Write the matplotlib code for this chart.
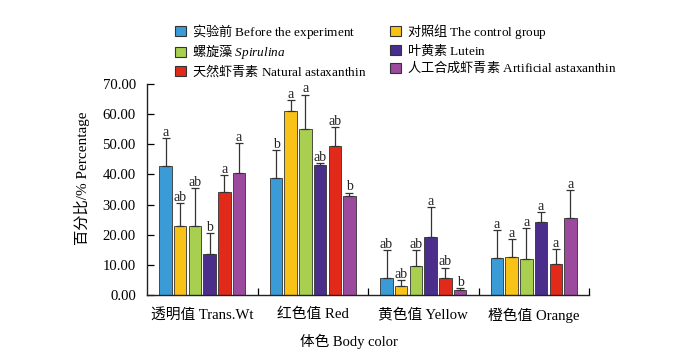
import matplotlib
matplotlib.use("Agg")
import matplotlib.pyplot as plt
from matplotlib.patches import Patch
import numpy as np

plt.rcParams['font.family'] = ['Liberation Serif', 'Noto Sans CJK SC']
plt.rcParams['mathtext.fontset'] = 'custom'
plt.rcParams['mathtext.it'] = 'Liberation Serif:italic'
plt.rcParams['mathtext.rm'] = 'Noto Sans CJK SC'

categories = ['透明值 Trans.Wt', '红色值 Red', '黄色值 Yellow', '橙色值 Orange']
series = ['$\\mathrm{实验前}$ Before the experiment', '$\\mathrm{对照组}$ The control group',
          '$\\mathrm{螺旋藻}$ $\\mathit{Spirulina}$', '$\\mathrm{叶黄素}$ Lutein',
          '$\\mathrm{天然虾青素}$ Natural astaxanthin',
          '$\\mathrm{人工合成虾青素}$ Artificial astaxanthin']
colors = ['#3A9BD6', '#F8C216', '#A8CF50', '#4B2E8C', '#E22A1B', '#9C4A9E']

before = [42.8, 38.7, 5.5, 12.3]
control = [23.0, 60.9, 3.1, 12.5]
spirulina = [23.0, 55.0, 9.7, 11.8]
lutein = [13.5, 43.1, 19.4, 24.3]
natural = [34.1, 49.5, 5.8, 10.2]
artificial = [40.5, 32.7, 1.5, 25.4]

err_before = [9.2, 9.4, 9.4, 9.3]
err_control = [7.4, 3.8, 1.9, 6.2]
err_spirulina = [12.4, 11.5, 5.2, 10.3]
err_lutein = [7.0, 0.6, 9.9, 3.3]
err_natural = [5.7, 6.1, 3.3, 5.0]
err_artificial = [10.0, 1.3, 0.9, 9.4]

sig_before = ['a', 'b', 'ab', 'a']
sig_control = ['ab', 'a', 'ab', 'a']
sig_spirulina = ['ab', 'a', 'ab', 'a']
sig_lutein = ['b', 'ab', 'a', 'a']
sig_natural = ['a', 'ab', 'ab', 'a']
sig_artificial = ['a', 'b', 'b', 'a']

values = [before, control, spirulina, lutein, natural, artificial]
errors = [err_before, err_control, err_spirulina, err_lutein, err_natural, err_artificial]
sigs = [sig_before, sig_control, sig_spirulina, sig_lutein, sig_natural, sig_artificial]

fig = plt.figure(figsize=(7.0, 3.54), dpi=100)
ax = fig.add_axes([147/700, 1-295/354, 442/700, 211/354])

x = np.arange(len(categories))
stride = 0.133
width = 0.113
for j in range(6):
    xs = x + (j - 2.5) * stride
    ax.bar(xs, values[j], width, color=colors[j], edgecolor='#333333', linewidth=0.6, zorder=2)
    ax.errorbar(xs, values[j], yerr=[np.zeros(4), errors[j]], fmt='none',
                ecolor='#333333', elinewidth=0.9, capsize=2.8, capthick=0.9, zorder=3)
    for i in range(4):
        top = values[j][i] + errors[j][i]
        ax.text(xs[i], top - 0.3, sigs[j][i], ha='center', va='bottom', fontsize=10, color='#222222')

ax.set_xlim(-0.5, 3.5)
ax.set_ylim(0, 70)
ax.set_yticks(np.arange(0, 71, 10))
ax.set_yticklabels([f'{v:.2f}' for v in np.arange(0, 71, 10)], fontsize=10.6)
ax.set_xticks(x)
ax.set_xticklabels(categories, fontsize=10.6)
ax.set_xticks([0.5, 1.5, 2.5, 3.5], minor=True)
ax.tick_params(axis='x', which='major', length=0, pad=9)
ax.tick_params(axis='x', which='minor', direction='in', length=5, width=0.9)
ax.tick_params(axis='y', direction='in', length=5, width=0.9, pad=8)
for s in ['top', 'right']:
    ax.spines[s].set_visible(False)
for s in ['left', 'bottom']:
    ax.spines[s].set_linewidth(1.0)
    ax.spines[s].set_color('#222222')

ax.set_xlabel('体色 Body color', fontsize=10.5)
ax.xaxis.set_label_coords(0.456, -0.185)
ax.set_ylabel('百分比/% Percentage', fontsize=11)
ax.yaxis.set_label_coords(-0.128, 0.552)

handles = [Patch(facecolor=colors[j], edgecolor='#333333', linewidth=0.8) for j in range(6)]
order = [0, 2, 4, 1, 3, 5]
fig.legend([handles[k] for k in order], [series[k] for k in order], ncol=2,
           loc='upper left', bbox_to_anchor=(175/700, 1-22/354), frameon=False,
           fontsize=9.5, handlelength=0.8, handleheight=0.8, handletextpad=0.5,
           columnspacing=1.8, labelspacing=0.1, borderpad=0, borderaxespad=0)

fig.savefig('out.png', dpi=100)
